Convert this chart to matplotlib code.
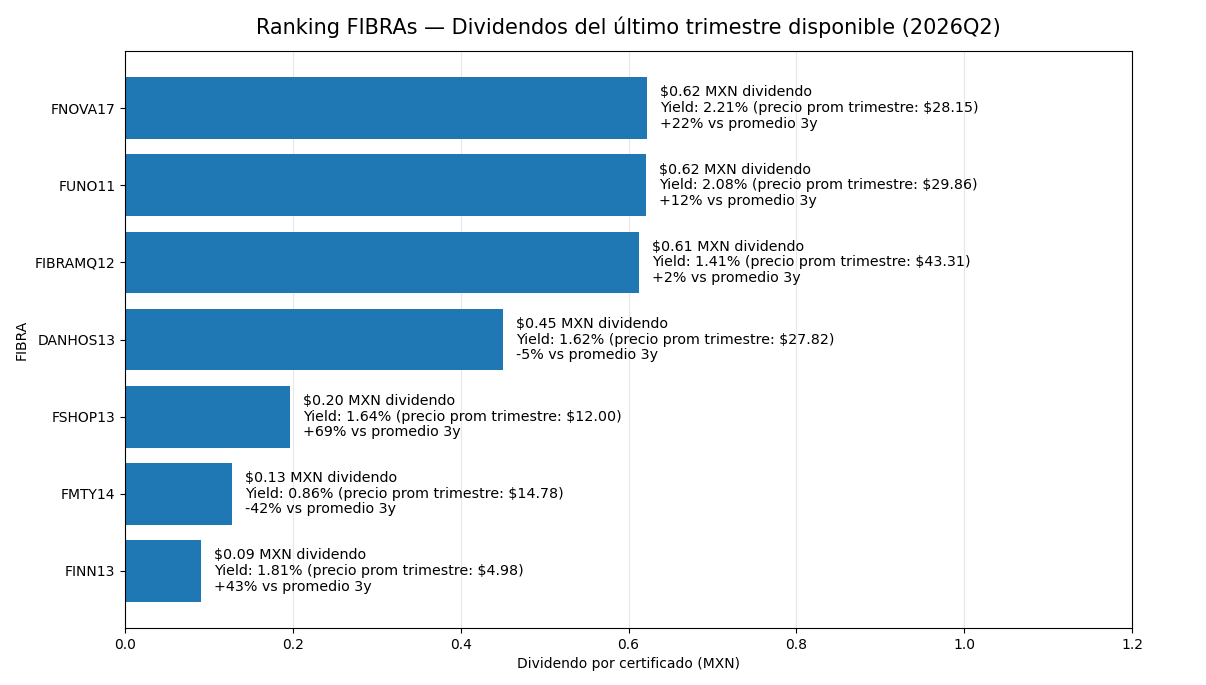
import matplotlib.pyplot as plt

# datos del ranking (de abajo hacia arriba)
fibras = ["FINN13", "FMTY14", "FSHOP13", "DANHOS13", "FIBRAMQ12", "FUNO11", "FNOVA17"]
dividendos = [0.0906, 0.1275, 0.1966, 0.4505, 0.6125, 0.621, 0.622]
yields = [1.81, 0.86, 1.64, 1.62, 1.41, 2.08, 2.21]
precios = [4.98, 14.78, 12.00, 27.82, 43.31, 29.86, 28.15]
vs_3y = [43, -42, 69, -5, 2, 12, 22]

fig, ax = plt.subplots(figsize=(12.06, 6.85), dpi=100)
fig.subplots_adjust(left=0.1037, right=0.9386, top=0.9255, bottom=0.0832)

ax.barh(fibras, dividendos, color="#1f77b4", height=0.8, zorder=2)

#Etiquetas de cada barra
for i in range(len(fibras)):
    txt = "${:.2f} MXN dividendo\nYield: {:.2f}% (precio prom trimestre: ${:.2f})\n{:+d}% vs promedio 3y".format(
        dividendos[i], yields[i], precios[i], vs_3y[i])
    ax.text(dividendos[i] + 0.015, i, txt, va="center", ha="left", fontsize=10.25, linespacing=1.15)

ax.set_xlim(0, 1.2)
ax.set_xlabel("Dividendo por certificado (MXN)")
ax.set_ylabel("FIBRA")
ax.set_title("Ranking FIBRAs — Dividendos del último trimestre disponible (2026Q2)", fontsize=15, pad=12)
ax.grid(True, axis="x", alpha=0.3, zorder=0)

plt.savefig("out.png", dpi=100)
